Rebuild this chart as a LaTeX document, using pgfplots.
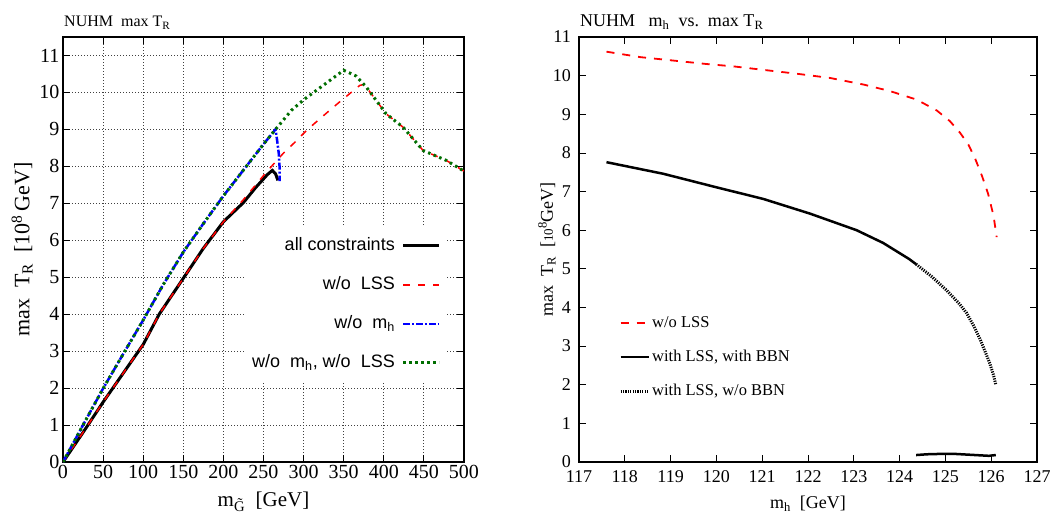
\documentclass[border=0pt]{standalone}
\usepackage{fontspec}
\setmainfont{Liberation Serif}
\newfontfamily\lsans{Liberation Sans}
\usepackage{pgfplots}
\pgfplotsset{compat=1.18}
\definecolor{gpgreen}{RGB}{0,110,0}
\begin{document}
\begin{tikzpicture}[x=1pt,y=1pt]
\pgfplotsset{
  common/.style={
    scale only axis, anchor=south west,
    tick align=inside, major tick length=7pt,
    tick style={line width=0.8pt, black},
    axis line style={line width=1.3pt},
    /pgf/number format/assume math mode=true,
  }
}
% ---------------- left ----------------
\begin{axis}[common,
  at={(63pt,53pt)}, width=401pt, height=425pt,
  xmin=0, xmax=500, ymin=0, ymax=11.5,
  xtick={0,50,...,500}, ytick={0,1,...,11},
  grid=major, grid style={dash pattern=on 1pt off 2pt, line width=0.8pt, black!75},
  tick label style={font=\fontsize{20}{22}\selectfont},
  xlabel={m\textsubscript{\~G}\ \ [GeV]},
  ylabel={max\ \ T\textsubscript{R}\ \ [10\textsuperscript{8}\,GeV]},
  x label style={font=\fontsize{21}{23}\selectfont, at={(axis description cs:0.5,-0.104)}, anchor=base},
  y label style={font=\fontsize{22}{24}\selectfont, at={(axis description cs:-0.102,0.5)}, anchor=center},
  legend cell align=right, legend plot pos=right,
  legend image code/.code={\draw[#1] (0pt,0pt) -- (36pt,0pt);},
  legend style={at={(rel axis cs:0.9576,0.555)}, anchor=north east, fill=white, draw=none,
    font=\lsans\fontsize{18}{20}\selectfont, row sep=18pt, column sep=5pt, inner xsep=6pt, inner ysep=9pt,
    nodes={inner sep=2pt, text height=13pt, text depth=4pt}},
]
\addplot[black, line width=3pt] coordinates {
(0,0)(25,0.8)(50,1.62)(75,2.4)(100,3.18)(120,4.0)(150,4.97)(175,5.78)(200,6.5)(225,7.02)(240,7.42)(255,7.78)(261,7.89)(265,7.8)(268,7.62)
};
\addlegendentry{all constraints}
\addplot[red, line width=1.5pt, dash pattern=on 7pt off 8pt] coordinates {
(0,0)(25,0.8)(50,1.62)(75,2.4)(100,3.18)(120,4.0)(150,4.97)(175,5.78)(200,6.5)(225,7.1)(250,7.75)(260,8.0)(275,8.36)(290,8.67)(304,8.98)(321,9.3)(337,9.6)(352,9.87)(370,10.19)(376,10.22)(378,10.15)(403,9.42)(424,9.06)(449,8.43)(478,8.16)(500,7.87)
};
\addlegendentry{w/o\ \ LSS}
\addplot[blue, line width=2.5pt, dash pattern=on 7pt off 2pt on 2pt off 2pt] coordinates {
(0,0)(25,1.0)(50,1.99)(75,2.92)(100,3.84)(125,4.8)(150,5.68)(175,6.45)(200,7.2)(225,7.9)(250,8.6)(265,9.0)(267,8.7)(269,8.36)(270,8.0)(270,7.6)
};
\addlegendentry{w/o\ \ m\textsubscript{h}}
\addplot[gpgreen, line width=3pt, dash pattern=on 2.5pt off 3.5pt] coordinates {
(0,0)(25,1.0)(50,1.99)(75,2.92)(100,3.84)(125,4.8)(150,5.68)(175,6.45)(200,7.2)(225,7.9)(250,8.6)(265,9.0)(285,9.52)(300,9.8)(325,10.2)(350,10.6)(365,10.45)(378,10.15)(403,9.42)(424,9.06)(449,8.43)(478,8.16)(500,7.87)
};
\addlegendentry{w/o\ \ m\textsubscript{h}, w/o\ \ LSS}
\end{axis}
% ---------------- right ----------------
\begin{axis}[common,
  at={(579pt,53pt)}, width=458pt, height=425pt,
  xmin=117, xmax=127, ymin=0, ymax=11,
  xtick={117,118,...,127}, ytick={0,1,...,11},
  tick label style={font=\fontsize{18}{20}\selectfont, inner sep=1pt},
  xticklabel style={yshift=-7pt},
  yticklabel style={xshift=-7pt},
  xlabel={m\textsubscript{h}\ \ [GeV]},
  ylabel={max\ \ T\textsubscript{R}\ \ [{\fontsize{13}{14}\selectfont 10}\textsuperscript{8}GeV]},
  x label style={font=\fontsize{18}{20}\selectfont, at={(axis description cs:0.5,-0.11)}, anchor=base},
  y label style={font=\fontsize{18}{20}\selectfont, at={(axis description cs:-0.07,0.5)}, anchor=center},
  legend cell align=left,
  legend image code/.code={\draw[#1] (0pt,0pt) -- (28pt,0pt);},
  legend style={at={(rel axis cs:0.0873,0.3506)}, anchor=north west, fill=none, draw=none,
    font=\fontsize{16.5}{18}\selectfont, row sep=14pt, inner sep=0pt,
    nodes={inner sep=2pt, text height=12pt, text depth=4pt}},
]
\addplot[red, line width=1.8pt, dash pattern=on 8pt off 8pt] coordinates {
(117.6,10.62)(118.33,10.48)(119.06,10.39)(119.79,10.30)(120.37,10.24)(121.02,10.15)(121.75,10.05)(122.48,9.94)(123.21,9.77)(123.79,9.6)(124.37,9.38)(124.81,9.1)(125.1,8.82)(125.32,8.52)(125.5,8.22)(125.65,7.85)(125.8,7.4)(125.93,6.95)(126.05,6.38)(126.12,5.82)
};
\addlegendentry{w/o LSS}
\addplot[black, line width=2.5pt] coordinates {
(117.6,7.76)(118.84,7.46)(120.0,7.11)(121.02,6.81)(122.04,6.43)(123.06,6.0)(123.64,5.67)(123.94,5.45)(124.2,5.26)(124.36,5.12)
};
\addlegendentry{with LSS, with BBN}
\addplot[black, line width=3pt, dash pattern=on 1.2pt off 1.2pt] coordinates {
(124.36,5.12)(124.7,4.8)(125.03,4.44)(125.3,4.1)(125.46,3.86)(125.62,3.52)(125.76,3.17)(125.88,2.82)(125.97,2.55)(126.05,2.25)(126.1,2.0)
};
\addlegendentry{with LSS, w/o BBN}
\addplot[black, line width=2.5pt, forget plot] coordinates {
(124.36,0.18)(124.6,0.2)(124.9,0.21)(125.2,0.21)(125.5,0.19)(125.8,0.17)(125.95,0.16)(126.1,0.18)
};
\end{axis}
\node[anchor=base west, font=\fontsize{16}{18}\selectfont, inner sep=0pt] at (64pt,488pt) {NUHM\ \ max T\textsubscript{R}};
\node[anchor=base west, font=\fontsize{18}{20}\selectfont, inner sep=0pt] at (580pt,488pt) {NUHM\ \ \ m\textsubscript{h}\ \ vs.\ \ max T\textsubscript{R}};
\pgfresetboundingbox
\path (0pt,0pt) rectangle (1064pt,515pt);
\end{tikzpicture}
\end{document}
